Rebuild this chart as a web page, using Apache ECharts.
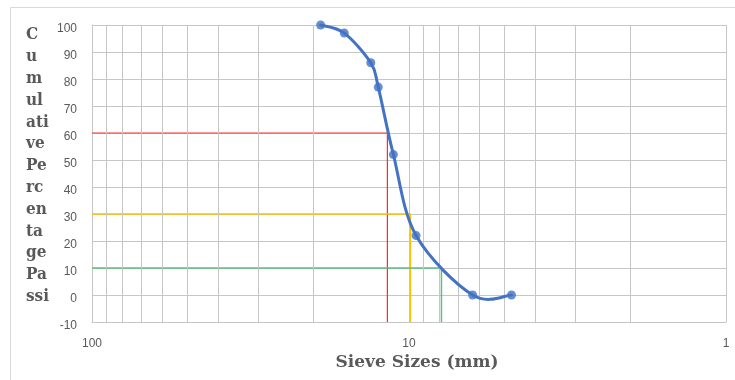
<!DOCTYPE html>
<html>
<head>
<meta charset="utf-8">
<script src="https://cdn.jsdelivr.net/npm/echarts@6/dist/echarts.min.js"></script>
<style>html,body{margin:0;padding:0;background:#fff}#c{width:735px;height:380px}</style>
</head>
<body>
<div id="c"></div>
<script>
// Data
var sieveSizes = [19, 16, 13.2, 12.5, 11.2, 9.5, 6.3, 4.75];
var percentPassing = [100, 97, 86, 77, 52, 22, 0, 0];
var d60 = 11.7, d30 = 9.9, d10 = 7.9;
var minorGridValues = [90, 80, 70, 60, 50, 40, 30, 20, 9, 8, 7, 6, 5, 4, 3, 2];
var yTitleLines = ['C', 'u', 'm', 'ul', 'ati', 've', 'Pe', 'rc', 'en', 'ta', 'ge', 'Pa', 'ssi'];
var xTitle = 'Sieve Sizes (mm)';

var gridColor = '#c6c6c6';
var blue = '#4472c4';
var curve = sieveSizes.map(function (s, i) { return [s, percentPassing[i]]; });
function refLine(d, p) { return [[100, p], [d, p], [d, -10]]; }

// Excel-like smoothed segment (Catmull-Rom style Bezier), computed in pixel space via the axes
function renderSegment(params, api) {
  var i = params.dataIndex;
  var n = curve.length;
  if (i >= n - 1) return null;
  var P = function (k) { k = Math.max(0, Math.min(n - 1, k)); return api.coord(curve[k]); };
  var p0 = P(i - 1), p1 = P(i), p2 = P(i + 1), p3 = P(i + 2);
  var f = 1 / 6;
  return {
    type: 'bezierCurve',
    shape: {
      x1: p1[0], y1: p1[1], x2: p2[0], y2: p2[1],
      cpx1: p1[0] + (p2[0] - p0[0]) * f, cpy1: p1[1] + (p2[1] - p0[1]) * f,
      cpx2: p2[0] - (p3[0] - p1[0]) * f, cpy2: p2[1] - (p3[1] - p1[1]) * f
    },
    style: { stroke: blue, lineWidth: 3, fill: null, lineCap: 'round', lineJoin: 'round' }
  };
}

var chart = echarts.init(document.getElementById('c'), null, { renderer: 'canvas' });
chart.setOption({
  animation: false,
  backgroundColor: '#fff',
  grid: { left: 92, right: 9, top: 25, bottom: 58 },
  graphic: [
    { type: 'rect', shape: { x: 10.5, y: 7.5, width: 740, height: 400 }, style: { fill: 'none', stroke: '#d9d9d9', lineWidth: 1 }, z: -10 },
    { type: 'text', left: 26, top: 24, style: { text: yTitleLines.join('\n'), font: 'bold 17px "DejaVu Serif Condensed", "DejaVu Serif"', fill: '#595959', lineHeight: 21.8 } },
    { type: 'text', x: 417, y: 363, style: { text: xTitle, font: 'bold 17px "DejaVu Serif"', fill: '#595959', align: 'center', verticalAlign: 'middle' } }
  ],
  xAxis: {
    type: 'log', logBase: 10, min: 1, max: 100, inverse: true,
    axisLine: { show: true, onZero: false, lineStyle: { color: gridColor, width: 1 } },
    axisTick: { show: false },
    axisLabel: { color: '#595959', fontSize: 12, fontFamily: 'Liberation Sans', margin: 16 },
    splitLine: { show: true, lineStyle: { color: gridColor, width: 1 } }
  },
  yAxis: {
    type: 'value', min: -10, max: 100, interval: 10,
    axisLine: { show: true, lineStyle: { color: gridColor, width: 1 } },
    axisTick: { show: false },
    axisLabel: { color: '#595959', fontSize: 12, fontFamily: 'Liberation Sans', margin: 15, verticalAlign: 'top', lineHeight: 8 },
    splitLine: { show: true, lineStyle: { color: gridColor, width: 1 } }
  },
  series: [
    {
      type: 'line', data: [], silent: true, z: 1,
      markLine: {
        silent: true, symbol: ['none', 'none'], label: { show: false },
        lineStyle: { color: gridColor, width: 1, type: 'solid' },
        emphasis: { disabled: true },
        data: minorGridValues.map(function (v) { return { xAxis: v }; })
      }
    },
    { type: 'line', data: refLine(d60, 60), symbol: 'none', lineStyle: { color: '#ff2a2a', width: 1.2 }, z: 2 },
    { type: 'line', data: refLine(d30, 30), symbol: 'none', lineStyle: { color: '#ffc000', width: 1.5 }, z: 2 },
    { type: 'line', data: refLine(d10, 10), symbol: 'none', lineStyle: { color: '#5cbd7c', width: 1.5 }, z: 2 },
    { type: 'custom', data: curve, renderItem: renderSegment, encode: { x: 0, y: 1 }, z: 5, silent: true },
    { type: 'scatter', data: curve, symbol: 'circle', symbolSize: 9, itemStyle: { color: blue }, z: 6, silent: true }
  ]
});
</script>
</body>
</html>
